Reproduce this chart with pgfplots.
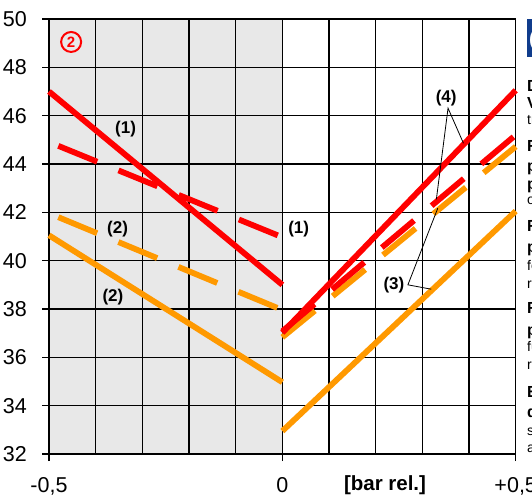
\documentclass[border=0pt]{standalone}
\usepackage{pgfplots}
\pgfplotsset{compat=1.18}
\usepackage{fontspec}
\setmainfont{Liberation Sans}
\definecolor{xred}{RGB}{255,0,0}
\definecolor{xorange}{RGB}{255,153,0}
\definecolor{shade}{RGB}{232,232,232}
\definecolor{xblue}{RGB}{16,60,140}
\begin{document}
\begin{tikzpicture}
\begin{axis}[
  at={(49pt,49pt)}, anchor=south west,
  scale only axis, width=466.7pt, height=435pt,
  set layers=standard,
  xmin=-0.5, xmax=0.5, ymin=32, ymax=50,
  xtick={-0.5,0,0.5}, xticklabels={{-0,5},{0},{+0,5}},
  minor xtick={-0.4,-0.3,-0.2,-0.1,0.1,0.2,0.3,0.4},
  ytick={32,34,...,50},
  xmajorgrids, xminorgrids, ymajorgrids,
  grid style={black, line width=1.2pt},
  minor grid style={black, line width=1.2pt},
  major tick style={black, line width=1.2pt},
  major tick length=7pt, minor tick length=0pt,
  tick align=outside, xtick pos=bottom, ytick pos=left,
  axis line style={black, line width=1.5pt},
  /pgf/number format/assume math mode=true,
  ticklabel style={font=\fontsize{21.5}{24}\selectfont},
  xticklabel style={anchor=north, inner sep=0pt},
  yticklabel style={anchor=east, inner sep=0pt},
  xticklabel shift=16pt,
  yticklabel shift=15pt,
  clip=false,
]
\addplot[on layer=axis background, fill=shade, draw=none] coordinates {(-0.5,32) (0,32) (0,50) (-0.5,50)} -- cycle;
% left side
\addplot[xred, line width=5.8pt] coordinates {(-0.5,47) (0,39)};
\addplot[xred, line width=5.8pt, dash pattern=on 42pt off 23pt] coordinates {(-0.48,44.75) (0,40.97)};
\addplot[xorange, line width=5.8pt, dash pattern=on 42pt off 23pt] coordinates {(-0.48,41.8) (0,37.96)};
\addplot[xorange, line width=5.8pt] coordinates {(-0.5,41.05) (0,34.97)};
% right side
\addplot[xorange, line width=5.8pt] coordinates {(0,32.95) (0.5,42.05)};
\addplot[xorange, line width=5.8pt, dash pattern=on 42pt off 23pt] coordinates {(0,36.83) (0.5,44.72)};
\addplot[xred, line width=5.8pt, dash pattern=on 42pt off 23pt] coordinates {(0,37.08) (0.5,45.2)};
\addplot[xred, line width=5.8pt] coordinates {(0,37.02) (0.5,47.05)};
% annotation lines
\addplot[black, line width=0.8pt] coordinates {(0.388,44.86) (0.355,46.31) (0.330,42.54)};
\addplot[black, line width=0.8pt] coordinates {(0.319,38.82) (0.269,39.0) (0.333,42.17)};
% labels
\node[font=\bfseries\fontsize{17}{17}\selectfont] at (axis cs:-0.336,45.44) {(1)};
\node[font=\bfseries\fontsize{17}{17}\selectfont] at (axis cs:0.035,41.30) {(1)};
\node[font=\bfseries\fontsize{17}{17}\selectfont] at (axis cs:-0.353,41.30) {(2)};
\node[font=\bfseries\fontsize{17}{17}\selectfont] at (axis cs:-0.363,38.51) {(2)};
\node[font=\bfseries\fontsize{17}{17}\selectfont] at (axis cs:0.351,46.72) {(4)};
\node[font=\bfseries\fontsize{17}{17}\selectfont] at (axis cs:0.239,38.99) {(3)};
\node[circle, draw=xred, line width=2pt, text=xred, inner sep=0pt, minimum size=20pt,
      font=\bfseries\fontsize{15}{15}\selectfont] at (axis cs:-0.4526,49.05) {2};
\node[font=\bfseries\fontsize{20.5}{22}\selectfont, anchor=center] at (axis cs:0.22,32) [yshift=-31pt] {[bar rel.]};
\end{axis}
% clipped side panel
\fill[xblue] (527pt,446pt) rectangle (560pt,484pt);
\node[anchor=base west, inner sep=0pt, text=white, font=\bfseries\fontsize{20}{20}\selectfont] at (529pt,457pt) {(};
\begin{scope}[every node/.style={anchor=base west, inner sep=0pt}]
\def\B{\bfseries\fontsize{16}{16}\selectfont}
\def\S{\fontsize{14}{14}\selectfont}
\node[font=\B] at (527pt,411pt) {D};
\node[font=\B] at (527pt,394pt) {V};
\node[font=\S] at (527pt,378pt) {tr};
\node[font=\B] at (527pt,351pt) {R};
\node[font=\B] at (527pt,331pt) {p};
\node[font=\B] at (527pt,313pt) {p};
\node[font=\S] at (527pt,298pt) {o};
\node[font=\B] at (527pt,271pt) {R};
\node[font=\B] at (527pt,250pt) {p};
\node[font=\S] at (527pt,232pt) {fo};
\node[font=\S] at (527pt,214pt) {re};
\node[font=\B] at (527pt,189pt) {R};
\node[font=\B] at (527pt,167pt) {p};
\node[font=\S] at (527pt,151pt) {fu};
\node[font=\S] at (527pt,133pt) {ra};
\node[font=\B] at (527pt,106pt) {E};
\node[font=\B] at (527pt,85pt) {d};
\node[font=\S] at (527pt,68pt) {s};
\node[font=\S] at (527pt,51pt) {a};
\end{scope}
\pgfresetboundingbox
\path[use as bounding box] (0,0) rectangle (532pt,503pt);
\end{tikzpicture}
\end{document}
